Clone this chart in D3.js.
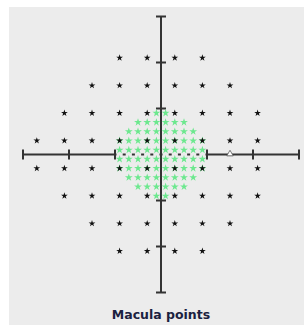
<!DOCTYPE html>
<html>
<head>
<meta charset="utf-8">
<script src="https://cdn.jsdelivr.net/npm/d3@7"></script>
<style>
  body { margin: 0; background: #fff; }
  svg { display: block; }
</style>
</head>
<body>
<div id="vis"></div>
<script>
var width = 304,
    height = 325

// axis ticks in degrees
var axisTicks = [-30, -20, -10, 10, 20, 30];

// 24-2 grid (black stars), one list of x per row y
var outerRowsY = [21, 15, 9, 3, -3, -9, -15, -21];
var outerRowsX = [
    [-9, -3, 3, 9],
    [-15, -9, -3, 3, 9, 15],
    [-21, -15, -9, -3, 3, 9, 15, 21],
    [-27, -21, -15, -9, -3, 3, 9, 15, 21],
    [-27, -21, -15, -9, -3, 3, 9, 15, 21],
    [-21, -15, -9, -3, 3, 9, 15, 21],
    [-15, -9, -3, 3, 9, 15],
    [-9, -3, 3, 9]
];

// 10-2 macula grid (green stars)
var maculaRowsY = [9, 7, 5, 3, 1, -1, -3, -5, -7, -9];
var maculaRowsX = [
    [-1, 1],
    [-5, -3, -1, 1, 3, 5],
    [-7, -5, -3, -1, 1, 3, 5, 7],
    [-9, -7, -5, -3, -1, 1, 3, 5, 7, 9],
    [-9, -7, -5, -3, -1, 1, 3, 5, 7, 9],
    [-9, -7, -5, -3, -1, 1, 3, 5, 7, 9],
    [-9, -7, -5, -3, -1, 1, 3, 5, 7, 9],
    [-7, -5, -3, -1, 1, 3, 5, 7],
    [-5, -3, -1, 1, 3, 5],
    [-1, 1]
];

// blind spot marker
var blindSpot = [15, 0];

var title = "Macula points";

function flatten(ys, xs) {
    var pts = [];
    for (var i = 0; i < ys.length; i++) {
        for (var j = 0; j < xs[i].length; j++) {
            pts.push([xs[i][j], ys[i]]);
        }
    }
    return pts;
}
var outerPoints = flatten(outerRowsY, outerRowsX);
var maculaPoints = flatten(maculaRowsY, maculaRowsX);

var svg = d3.select("#vis").append("svg")
    .attr("width", width)
    .attr("height", height);

// gray panel
svg.append("rect")
    .attr("x", 9)
    .attr("y", 7)
    .attr("width", width - 9)
    .attr("height", height - 7)
    .style("fill", "#ececec");

var x = d3.scaleLinear().domain([-30, 30]).range([23, 299]);
var y = d3.scaleLinear().domain([-30, 30]).range([292.5, 16.5]);

var axisColor = "#333";
var g = svg.append("g");

// horizontal axis: solid outside +-10, dotted inside
g.append("line")
    .attr("x1", x(-30)).attr("x2", x(-10))
    .attr("y1", y(0)).attr("y2", y(0))
    .style("stroke", axisColor).style("stroke-width", 2);
g.append("line")
    .attr("x1", x(10)).attr("x2", x(30))
    .attr("y1", y(0)).attr("y2", y(0))
    .style("stroke", axisColor).style("stroke-width", 2);
var step = x(2) - x(0);
g.append("line")
    .attr("x1", x(-10)).attr("x2", x(10))
    .attr("y1", y(0)).attr("y2", y(0))
    .style("stroke", axisColor).style("stroke-width", 2)
    .style("stroke-dasharray", "3," + (step - 3))
    .style("stroke-dashoffset", 1.5);

// vertical axis
g.append("line")
    .attr("x1", x(0)).attr("x2", x(0))
    .attr("y1", y(-30)).attr("y2", y(30))
    .style("stroke", axisColor).style("stroke-width", 2);

// ticks
g.selectAll(".xtick")
    .data(axisTicks)
    .enter()
    .append("line")
    .attr("class", "xtick")
    .attr("x1", function(d) { return x(d); })
    .attr("x2", function(d) { return x(d); })
    .attr("y1", y(0) - 5).attr("y2", y(0) + 5)
    .style("stroke", axisColor).style("stroke-width", 2);

g.selectAll(".ytick")
    .data(axisTicks)
    .enter()
    .append("line")
    .attr("class", "ytick")
    .attr("y1", function(d) { return y(d); })
    .attr("y2", function(d) { return y(d); })
    .attr("x1", x(0) - 5).attr("x2", x(0) + 5)
    .style("stroke", axisColor).style("stroke-width", 2);

// macula stars
var greenStar = d3.symbol().type(d3.symbolStar).size(19);
svg.append("g").selectAll("path")
    .data(maculaPoints)
    .enter()
    .append("path")
    .attr("d", greenStar)
    .attr("transform", function(d) { return "translate(" + x(d[0]) + "," + y(d[1]) + ")"; })
    .style("fill", "#6ce88e");

// 24-2 stars
var blackStar = d3.symbol().type(d3.symbolStar).size(14);
svg.append("g").selectAll("path")
    .data(outerPoints)
    .enter()
    .append("path")
    .attr("d", blackStar)
    .attr("transform", function(d) { return "translate(" + x(d[0]) + "," + y(d[1]) + ")"; })
    .style("fill", "#111");

// blind spot triangle
svg.append("path")
    .attr("d", d3.symbol().type(d3.symbolTriangle).size(18))
    .attr("transform", "translate(" + x(blindSpot[0]) + "," + (y(blindSpot[1]) - 0.5) + ")")
    .style("fill", "#fff")
    .style("stroke", "#555")
    .style("stroke-width", 0.8);

svg.append("text")
    .attr("x", x(0))
    .attr("y", 319)
    .attr("text-anchor", "middle")
    .style("font-family", "DejaVu Sans, Verdana, sans-serif")
    .style("font-weight", "bold")
    .style("font-size", "12.5px")
    .style("fill", "#1b2140")
    .text(title);
</script>
</body>
</html>
